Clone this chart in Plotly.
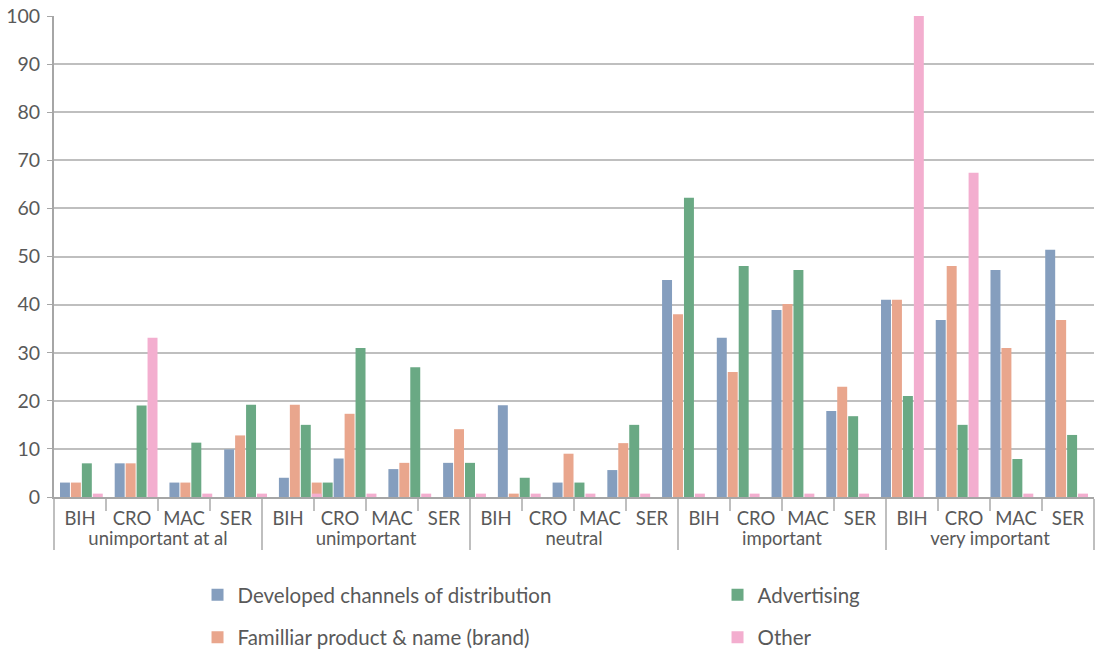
import plotly.graph_objects as go

groups = ["unimportant at al", "unimportant", "neutral", "important", "very important"]
countries = ["BIH", "CRO", "MAC", "SER"]

# values as drawn, one entry per bar cluster (19 clusters spread over the 20 labels)
distribution = [3, 7, 3, 9.9, 4, 8, 5.8, 7.1, 19.1, 3, 5.6, 45.1, 33.1, 38.9, 17.9, 41, 36.8, 47.2, 51.4]
brand = [3, 7, 3, 12.8, 19.2, 17.3, 7.1, 14.1, 0.7, 9, 11.2, 38, 26, 40.1, 22.9, 41, 48, 31, 36.8]
advertising = [7, 19, 11.3, 19.2, 15, 31, 27, 7.1, 4, 3, 15, 62.2, 48, 47.2, 16.8, 21, 15, 7.9, 12.9]
other = [0.7, 33.1, 0.7, 0.7, 0.7, 0.7, 0.7, 0.7, 0.7, 0.7, 0.7, 0.7, 0.7, 0.7, 0.7, 100, 67.4, 0.7, 0.7]

# two stray bars drawn beside the 5th cluster
extra_cluster = [4]
extra_brand = [3]
extra_advertising = [3]

series_names = ["Developed channels of distribution", "Familliar product & name (brand)",
                "Advertising", "Other"]
colors = ["#859EBE", "#E9A68D", "#6AA984", "#F3AECF"]

clusters = list(range(len(distribution)))

fig = go.Figure()

# invisible trace defining the two-level category axis
lvl1 = [g for g in groups for _ in countries]
lvl2 = [c for _ in groups for c in countries]
fig.add_trace(go.Scatter(x=[lvl1, lvl2], y=[0] * len(lvl1), mode="markers",
                         marker=dict(opacity=0), showlegend=False, hoverinfo="skip"))

def bar(x, y, name, color, og, legend, show=True, rank=1):
    return go.Bar(x=x, y=y, name=name, marker=dict(color=color, line=dict(width=0)),
                  offsetgroup=og, xaxis="x2", yaxis="y", showlegend=show,
                  legend=legend, legendgroup=name if show else None, legendrank=rank)

fig.add_trace(bar(clusters, distribution, series_names[0], colors[0], "a", "legend", rank=1))
fig.add_trace(bar(clusters, brand, series_names[1], colors[1], "b", "legend", rank=2))
fig.add_trace(bar(clusters, advertising, series_names[2], colors[2], "c", "legend2", rank=1))
fig.add_trace(bar(extra_cluster, extra_brand, series_names[1], colors[1], "d", "legend", show=False))
fig.add_trace(bar(extra_cluster, extra_advertising, series_names[2], colors[2], "e", "legend2", show=False))
fig.add_trace(bar(clusters, other, series_names[3], colors[3], "d", "legend2", rank=2))

txt = "#595959"
legend_common = dict(orientation="v", yref="container", yanchor="top", y=0.1143,
                     xanchor="left", font=dict(size=20.5, color=txt, family="Lato"),
                     tracegroupgap=13, bgcolor="rgba(0,0,0,0)", itemclick=False)

fig.update_layout(
    width=1101, height=649,
    margin=dict(l=54, r=7, t=16, b=152, autoexpand=False),
    plot_bgcolor="white", paper_bgcolor="white",
    font=dict(family="Lato", color=txt),
    barmode="group", bargap=0, bargroupgap=0.09,
    xaxis=dict(type="multicategory", range=[-0.5, 19.5], showline=True, linecolor="#A6A6A6",
               linewidth=2, ticks="outside", tickson="boundaries", ticklen=12,
               tickcolor="#BFBFBF", tickwidth=2, showdividers=True, dividercolor="#BFBFBF",
               dividerwidth=2, tickfont=dict(size=18.5, color=txt), showgrid=False,
               automargin=False, ticklabelstandoff=4),
    xaxis2=dict(overlaying="x", range=[-0.6, 18.4], visible=False, anchor="y"),
    yaxis=dict(range=[0, 100], dtick=10, showgrid=True, gridcolor="#BFBFBF", gridwidth=1.5,
               showline=True, linecolor="#A6A6A6", linewidth=2, ticks="outside", ticklen=5,
               tickcolor="#A6A6A6", tickfont=dict(size=19.5, color=txt), zeroline=False,
               automargin=False, ticklabelstandoff=3),
    legend=dict(x=0.138, **legend_common),
    legend2=dict(x=0.638, **legend_common),
    showlegend=True,
)

fig.write_html("out.html", config={"displayModeBar": False},
               post_script="document.body.style.margin='0';")
